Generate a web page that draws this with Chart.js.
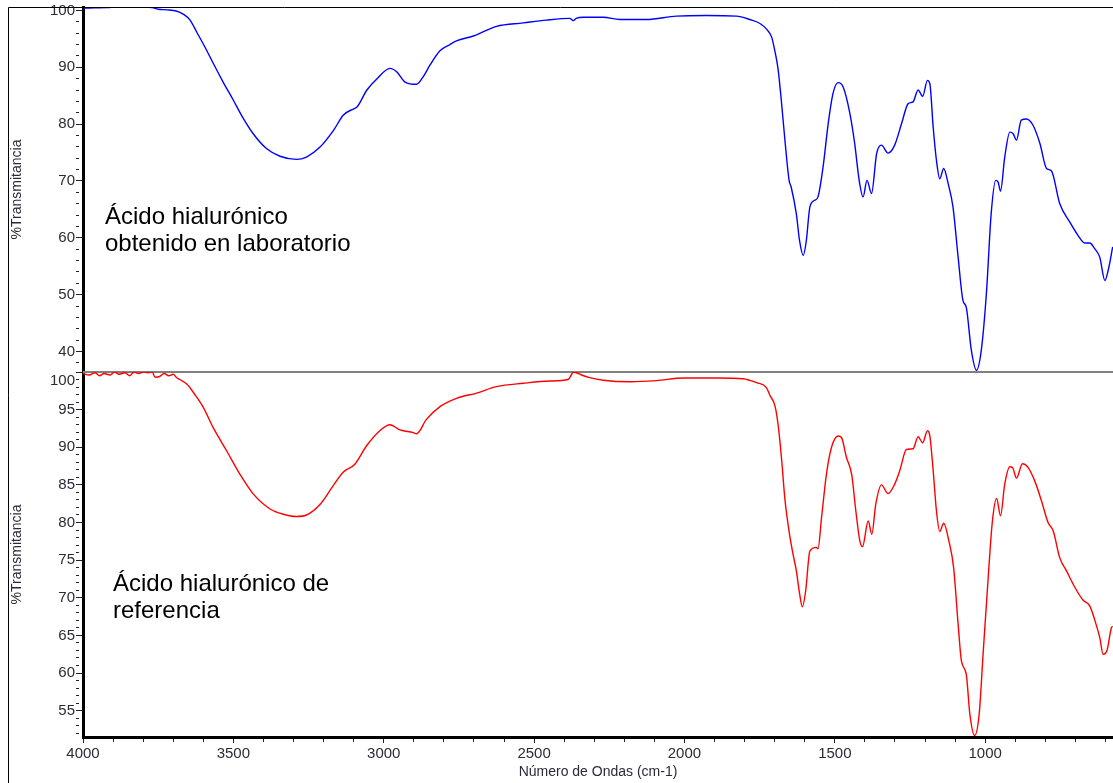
<!DOCTYPE html>
<html>
<head>
<meta charset="utf-8">
<title>Espectro FTIR - Ácido hialurónico</title>
<script src="https://cdn.jsdelivr.net/npm/chart.js@4"></script>
<style>
  html, body { margin: 0; padding: 0; background: #ffffff; }
  #wrap { width: 1113px; height: 783px; position: relative; }
</style>
</head>
<body>
<div id="wrap"><canvas id="ftir" width="1113" height="783"></canvas></div>
<script>
// Wavenumbers (cm-1) and % transmittance, laboratory sample (blue)
const wnLab = [4000,3960,3920,3880,3840,3800,3770,3750,3720,3690,3667,3644,3622,3589,3567,3534,3500,3467,3434,3390,3345,3290,3257,3211,3167,3134,3100,3089,3056,3024,2979,2957,2929,2891,2869,2846,2813,2780,2758,2702,2625,2536,2459,2381,2370,2360,2337,2270,2215,2126,2027,1927,1827,1783,1749,1727,1710,1700,1689,1678,1666,1652,1645,1628,1617,1605,1595,1583,1567,1556,1539,1522,1506,1489,1472,1450,1434,1419,1406,1393,1378,1361,1345,1323,1301,1278,1256,1240,1223,1208,1192,1184,1173,1162,1151,1138,1123,1107,1090,1074,1063,1046,1029,1013,996,980,965,957,949,935,918,907,896,880,863,841,818,796,780,752,719,691,669,652,636,619,602,591,576];
const tLab = [100.4,100.45,100.5,100.6,100.55,100.6,100.5,100.2,100.1,99.9,99.35,98.3,96.2,93.0,90.7,87.4,84.2,81.0,78.3,75.7,74.35,73.8,74.2,76.0,78.9,81.6,82.7,83.0,86.0,87.9,89.8,89.2,87.4,87.0,88.3,90.4,92.9,94.0,94.65,95.5,97.2,97.8,98.3,98.6,98.2,98.6,98.8,98.8,98.4,98.4,99.0,99.1,99.0,98.4,97.7,96.7,95.3,93.0,89.8,84.2,77.2,70.1,68.9,64.2,59.4,56.9,59.4,65.4,66.6,67.2,72.5,80.1,85.4,87.3,86.5,81.9,76.6,70.1,67.2,70.1,67.8,74.8,76.3,74.9,76.3,80.1,83.6,83.9,86.0,84.9,87.7,87.1,79.5,73.6,70.4,72.2,69.5,65.4,56.6,49.0,47.8,40.2,36.7,40.2,50.2,64.3,70.1,69.8,68.2,74.2,78.6,78.3,77.2,80.7,80.9,79.8,76.6,72.2,71.8,66.0,62.8,60.4,59.1,59.1,58.1,56.6,52.5,54.3,58.4];

// Wavenumbers (cm-1) and % transmittance, reference standard (red)
const wnRef = [4000,3980,3960,3945,3930,3910,3895,3880,3860,3845,3830,3815,3800,3785,3770,3760,3745,3730,3715,3700,3690,3678,3655,3628,3600,3567,3522,3478,3434,3378,3334,3290,3257,3212,3168,3134,3096,3057,3013,2979,2946,2902,2891,2858,2813,2758,2691,2625,2536,2448,2387,2375,2370,2359,2342,2315,2270,2181,2093,2004,1893,1805,1783,1760,1727,1716,1699,1688,1677,1666,1652,1639,1628,1617,1608,1597,1583,1561,1556,1544,1528,1511,1489,1478,1461,1444,1430,1417,1408,1389,1377,1364,1345,1323,1301,1284,1262,1240,1223,1208,1192,1184,1173,1162,1151,1138,1121,1105,1090,1079,1063,1051,1035,1020,1007,990,976,962,949,935,918,909,896,876,857,835,813,791,774,752,730,702,675,652,630,619,608,595,580,576];
const tRef = [99.8,99.6,99.9,99.5,99.8,99.6,100.0,99.7,99.9,99.5,100.0,99.8,100.0,99.9,100.0,99.3,99.4,99.8,99.5,99.7,99.3,99.0,98.4,97.0,95.3,92.6,89.5,86.4,83.8,81.8,81.1,80.8,81.0,82.4,84.9,86.7,87.75,90.2,92.2,93.0,92.3,91.95,91.8,93.7,95.4,96.5,97.2,98.05,98.5,98.8,99.0,99.7,100.0,99.9,99.6,99.25,98.9,98.7,98.85,99.2,99.2,99.1,98.9,98.6,97.9,96.9,95.5,92.8,88.4,83.1,78.8,75.8,73.6,70.5,68.8,70.9,76.2,76.7,76.5,80.7,86.4,90.0,91.5,91.3,88.6,86.4,81.5,77.6,76.8,80.2,78.45,82.4,85.0,83.85,85.1,86.9,89.7,89.8,91.4,90.6,92.2,91.5,86.9,81.5,78.8,79.9,77.6,74.0,66.5,61.6,59.85,54.55,51.7,54.55,62.5,72.7,80.2,83.2,80.9,85.1,87.4,87.3,85.9,87.8,87.3,85.5,82.9,80.0,78.9,75.3,73.6,71.4,69.7,68.9,66.3,64.7,62.5,63.0,66.05,66.2];

// Labelled ticks on each axis
const xTickLabels = [4000, 3500, 3000, 2500, 2000, 1500, 1000];
const yLabTickLabels = [40, 50, 60, 70, 80, 90, 100];
const yRefTickLabels = [55, 60, 65, 70, 75, 80, 85, 90, 95, 100];

// Caption lines for each panel
const captionLab = ['Ácido hialurónico', 'obtenido en laboratorio'];
const captionRef = ['Ácido hialurónico de', 'referencia'];

const FONT = "'Liberation Sans', Arial, sans-serif";
const TEXT = '#2b2b38';

const toPoints = (xs, ys) => xs.map((x, i) => ({ x: x, y: ys[i] }));

// Short tick marks for unlabelled (minor) ticks, full length for labelled ones
const tickDash = (labels) => (ctx) =>
  (ctx.tick && labels.includes(Math.round(ctx.tick.value))) ? [] : [3, 40];

// Keep the plot edges fixed: no extra room reserved for edge tick labels
const noEdgePadding = (s) => {
  s.paddingTop = 0; s.paddingBottom = 0; s.paddingLeft = 0; s.paddingRight = 0;
};

const panelAxis = (min, max, step, labels, topLabel) => ({
  type: 'linear',
  position: 'left',
  stack: 'panels',
  stackWeight: 1,
  min: min,
  max: max,
  afterFit: (s) => { s.width = 78; noEdgePadding(s); },
  ticks: {
    stepSize: step,
    autoSkip: false,
    includeBounds: false,
    padding: 1,
    color: TEXT,
    font: { family: FONT, size: 15 },
    callback: (v) => {
      const r = Math.round(v);
      if (Math.abs(v - r) > 1e-6 || !labels.includes(r)) return '';
      return (topLabel && r === 100) ? ['', String(r)] : String(r);
    }
  },
  grid: {
    drawOnChartArea: false,
    drawTicks: true,
    tickLength: 7,
    tickColor: '#222',
    tickWidth: 1,
    tickBorderDash: tickDash(labels)
  },
  border: { display: true, color: '#000', width: 3 },
  title: {
    display: true,
    text: '%Transmitancia',
    color: TEXT,
    font: { family: FONT, size: 14 },
    padding: { top: 4, bottom: 4 }
  }
});

// Frame, panel separator and captions
const decorations = {
  id: 'decorations',
  beforeDatasetsDraw(chart) {
    const { ctx, chartArea, scales } = chart;
    const ySep = Math.round(scales.yLab.bottom);
    ctx.save();
    ctx.strokeStyle = '#808080';
    ctx.lineWidth = 2;
    ctx.beginPath();
    ctx.moveTo(chartArea.left, ySep);
    ctx.lineTo(chartArea.right, ySep);
    ctx.stroke();
    ctx.restore();
  },
  afterDraw(chart) {
    const { ctx, chartArea, scales } = chart;
    ctx.save();
    ctx.strokeStyle = '#000';
    ctx.lineWidth = 1;
    ctx.beginPath();
    ctx.moveTo(8.5, chart.height);
    ctx.lineTo(8.5, chartArea.top + 0.5);
    ctx.lineTo(chartArea.right, chartArea.top + 0.5);
    ctx.stroke();

    ctx.fillStyle = '#000';
    ctx.font = '24px ' + FONT;
    ctx.textBaseline = 'middle';
    ctx.textAlign = 'left';
    const topY = scales.yLab.top;
    captionLab.forEach((line, i) => ctx.fillText(line, chartArea.left + 22, topY + 210 + i * 27));
    const refY = scales.yRef.top;
    captionRef.forEach((line, i) => ctx.fillText(line, chartArea.left + 30, refY + 212 + i * 27));
    ctx.restore();
  }
};

new Chart(document.getElementById('ftir'), {
  type: 'line',
  data: {
    datasets: [
      {
        label: 'Ácido hialurónico de referencia',
        data: toPoints(wnRef, tRef),
        yAxisID: 'yRef',
        borderColor: '#ff0000',
        borderWidth: 1.4,
        pointRadius: 0,
        cubicInterpolationMode: 'monotone'
      },
      {
        label: 'Ácido hialurónico obtenido en laboratorio',
        data: toPoints(wnLab, tLab),
        yAxisID: 'yLab',
        borderColor: '#0000ff',
        borderWidth: 1.4,
        pointRadius: 0,
        cubicInterpolationMode: 'monotone'
      }
    ]
  },
  options: {
    responsive: false,
    animation: false,
    events: [],
    layout: { padding: { left: 5, top: 7, right: 0, bottom: 0 } },
    plugins: { legend: { display: false }, tooltip: { enabled: false } },
    scales: {
      x: {
        type: 'linear',
        position: 'bottom',
        reverse: true,
        min: 575,
        max: 4000,
        afterFit: (s) => { s.height = 46; noEdgePadding(s); },
        ticks: {
          stepSize: 100,
          autoSkip: false,
          includeBounds: false,
          maxRotation: 0,
          padding: 2,
          color: TEXT,
          font: { family: FONT, size: 15 },
          callback: (v) => xTickLabels.includes(Math.round(v)) ? String(Math.round(v)) : ''
        },
        grid: {
          drawOnChartArea: false,
          drawTicks: true,
          tickLength: 6,
          tickColor: '#222',
          tickWidth: 1,
          tickBorderDash: tickDash(xTickLabels)
        },
        border: { display: true, color: '#000', width: 3 },
        title: {
          display: true,
          text: 'Número de Ondas (cm-1)',
          color: TEXT,
          font: { family: FONT, size: 14 },
          padding: { top: 0, bottom: 2 }
        }
      },
      yRef: panelAxis(51.5, 100.0, 1, yRefTickLabels, true),
      yLab: panelAxis(36.4, 100.6, 2, yLabTickLabels, false)
    }
  },
  plugins: [decorations]
});
</script>
</body>
</html>
